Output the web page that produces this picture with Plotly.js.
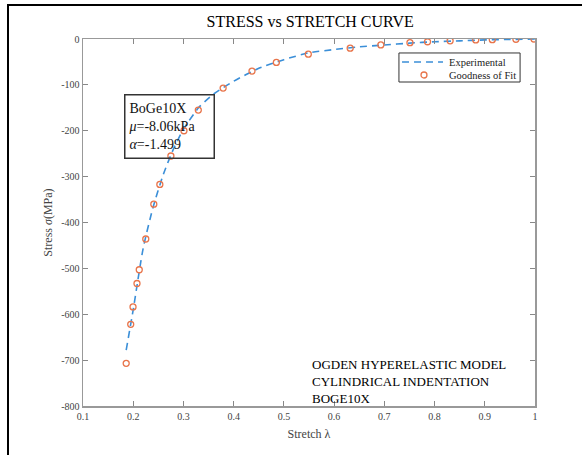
<!DOCTYPE html>
<html>
<head>
<meta charset="utf-8">
<script src="https://cdn.plot.ly/plotly-3.0.1.min.js"></script>
<style>
html,body{margin:0;padding:0;background:#fff;}
#wrap{position:relative;width:582px;height:455px;}
#chart{width:582px;height:455px;}
#frame{position:absolute;left:7px;top:4px;width:580px;height:460px;border-top:2px solid #000;border-left:2px solid #000;pointer-events:none;}
</style>
</head>
<body>
<div id="wrap"><div id="chart"></div><div id="frame"></div></div>
<script>
// Experimental curve (dashed line)
const expStretch = [0.186, 0.2, 0.22, 0.24, 0.26, 0.28, 0.3, 0.33, 0.36, 0.4, 0.45, 0.5, 0.55, 0.6, 0.65, 0.7, 0.75, 0.8, 0.85, 0.9, 0.95, 1.0];
const expStress  = [-678, -590, -455, -365, -295, -240, -197, -150, -120, -92, -64, -45, -30, -23, -17, -13, -9, -6, -4, -2, -1, 0];

// Goodness of fit (open circle markers)
const fitStretch = [0.186, 0.195, 0.1996, 0.2075, 0.212, 0.225, 0.241, 0.253, 0.275, 0.301, 0.3296, 0.379, 0.4365, 0.485, 0.5486, 0.632, 0.693, 0.751, 0.786, 0.831, 0.882, 0.915, 0.962, 0.998];
const fitStress  = [-707, -622, -584, -533, -503, -436, -360, -317, -255, -200, -155, -107, -70, -51, -33, -20, -13, -8, -6, -4, -2, -1.5, -0.5, 0];

// Tick labels
const xTickVals = [0.1, 0.2, 0.3, 0.4, 0.5, 0.6, 0.7, 0.8, 0.9, 1];
const xTickText = ['0.1', '0.2', '0.3', '0.4', '0.5', '0.6', '0.7', '0.8', '0.9', '1'];
const yTickVals = [0, -100, -200, -300, -400, -500, -600, -700, -800];
const yTickText = ['0', '-100', '-200', '-300', '-400', '-500', '-600', '-700', '-800'];

// Legend labels
const legendNames = ['Experimental', 'Goodness of Fit'];

const serif = 'Liberation Serif, Times New Roman, serif';
const lineColor = '#3b8fd8';
const markColor = '#e8744a';

const traces = [
  {
    x: expStretch, y: expStress, mode: 'lines', name: legendNames[0], showlegend: false,
    line: {color: lineColor, width: 1.6, dash: '7px,5px', shape: 'spline', smoothing: 0.6}
  },
  {
    x: fitStretch, y: fitStress, mode: 'markers', name: legendNames[1], showlegend: false,
    marker: {symbol: 'circle-open', size: 6, color: markColor, line: {width: 1.3, color: markColor}}
  }
];

const layout = {
  width: 582, height: 455,
  margin: {l: 83, r: 47, t: 39, b: 49},
  paper_bgcolor: '#fff', plot_bgcolor: '#fff',
  font: {family: serif, size: 10, color: '#333'},
  title: {text: 'STRESS vs STRETCH CURVE', font: {family: serif, size: 16, color: '#000'}, x: 0.533, xanchor: 'center', y: 0.952, yanchor: 'middle'},
  showlegend: false,
  xaxis: {
    range: [0.1, 1], tickvals: xTickVals, ticktext: xTickText,
    ticks: 'inside', ticklen: 5, tickcolor: '#888', tickwidth: 1,
    showline: true, linecolor: '#999', linewidth: 1.5, mirror: 'ticks',
    showgrid: false, zeroline: false,
    tickfont: {family: serif, size: 10, color: '#444'},
    title: {text: 'Stretch λ', font: {family: serif, size: 12, color: '#444'}, standoff: 9}
  },
  yaxis: {
    range: [-800, 0], tickvals: yTickVals, ticktext: yTickText,
    ticks: 'inside', ticklen: 5, tickcolor: '#888', tickwidth: 1,
    showline: true, linecolor: '#999', linewidth: 1.5, mirror: 'ticks',
    showgrid: false, zeroline: false,
    tickfont: {family: serif, size: 10, color: '#444'},
    title: {text: 'Stress <i>σ</i>(MPa)', font: {family: serif, size: 12, color: '#444'}, standoff: 6}
  },
  shapes: [
    // legend box
    {type: 'rect', xref: 'paper', yref: 'paper', x0: 0.699, x1: 0.967, y0: 0.8828, y1: 0.9619,
     line: {color: '#333', width: 1}, fillcolor: '#fff', layer: 'above'},
    // legend line sample
    {type: 'line', xref: 'paper', yref: 'paper', x0: 0.7058, x1: 0.7965, y0: 0.9373, y1: 0.9373,
     line: {color: lineColor, width: 1.6, dash: '7px,5px'}, layer: 'above'},
    // legend marker sample
    {type: 'circle', xref: 'paper', yref: 'paper', x0: 0.7544 - 0.0066, x1: 0.7544 + 0.0066, y0: 0.9019 - 0.0082, y1: 0.9019 + 0.0082,
     line: {color: markColor, width: 1.3}, layer: 'above'}
  ],
  annotations: [
    {
      xref: 'paper', yref: 'paper', x: 0.8053, y: 0.9373, xanchor: 'left', yanchor: 'middle',
      text: legendNames[0], showarrow: false, font: {family: serif, size: 10.5, color: '#222'}
    },
    {
      xref: 'paper', yref: 'paper', x: 0.8053, y: 0.9019, xanchor: 'left', yanchor: 'middle',
      text: legendNames[1], showarrow: false, font: {family: serif, size: 10.5, color: '#222'}
    },
    {
      xref: 'x', yref: 'y', x: 0.1816, y: -120, xanchor: 'left', yanchor: 'top',
      text: 'BoGe10X<br><i>μ</i>=-8.06kPa<br><i>α</i>=-1.499', align: 'left', showarrow: false,
      font: {family: serif, size: 14, color: '#111'}, width: 82, height: 56,
      bgcolor: 'rgba(0,0,0,0)', bordercolor: '#333', borderwidth: 1.5, borderpad: 3
    },
    {
      xref: 'x', yref: 'y', x: 0.552, y: -688, xanchor: 'left', yanchor: 'top',
      text: 'OGDEN HYPERELASTIC MODEL<br>CYLINDRICAL INDENTATION<br>BOGE10X', align: 'left', showarrow: false,
      font: {family: serif, size: 13, color: '#000'}
    }
  ]
};

Plotly.newPlot('chart', traces, layout, {displayModeBar: false, staticPlot: true});
</script>
</body>
</html>
